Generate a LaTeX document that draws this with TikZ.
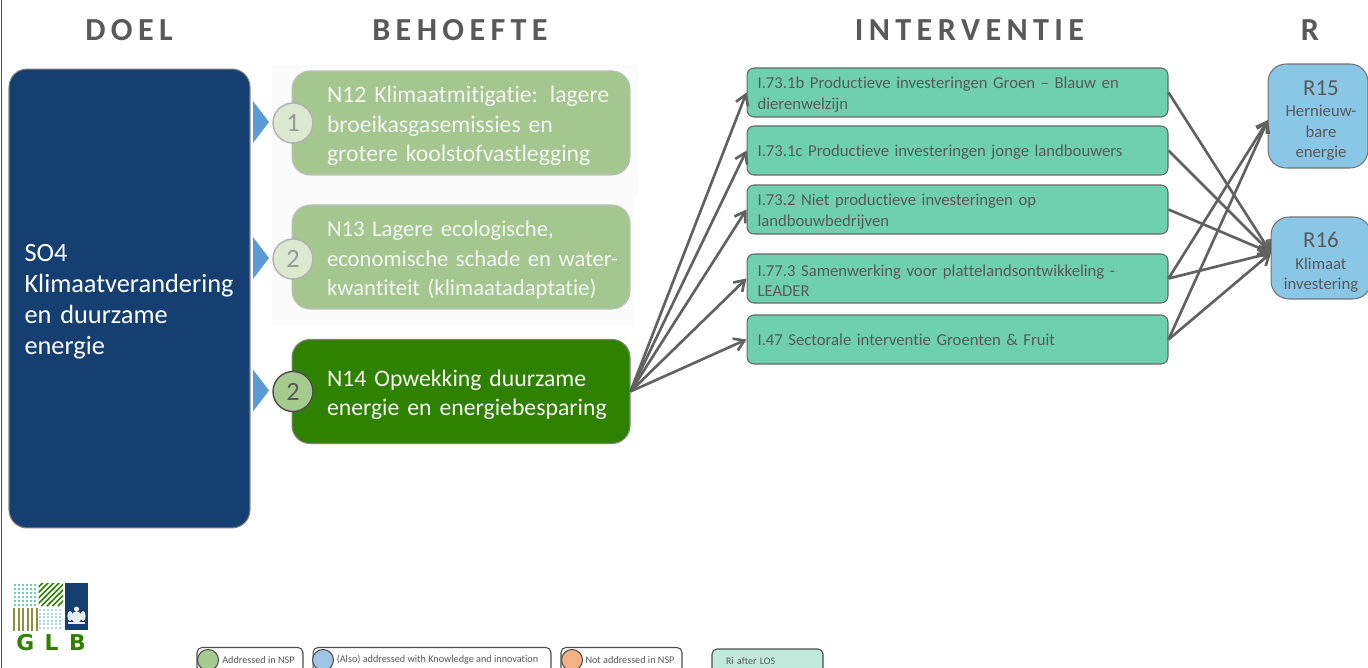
\documentclass[tikz,border=0pt]{standalone}
\usepackage{fontspec}
\setmainfont[Ligatures=CommonOff]{Carlito}
\newfontfamily\glbfont{DejaVu Sans}
\usepackage{tikz}
\usetikzlibrary{arrows.meta}
\definecolor{doelblue}{HTML}{153F70}
\definecolor{palegreen}{HTML}{A3C78E}
\definecolor{darkgreen}{HTML}{2F8200}
\definecolor{circgreen}{HTML}{A6CB8E}
\definecolor{circpale}{HTML}{DAE9CF}
\definecolor{intgreen}{HTML}{6FD0B0}
\definecolor{resblue}{HTML}{8AC6E6}
\definecolor{triblue}{HTML}{5B9BD5}
\definecolor{txtgray}{HTML}{595959}
\definecolor{barolive}{HTML}{8F8F3E}
\definecolor{dotblue}{HTML}{A9D8EE}
\definecolor{legorange}{HTML}{F4B183}
\definecolor{legblue}{HTML}{9DC3E6}
\definecolor{legmint}{HTML}{BFEADC}
\tikzset{
    x=0.02cm, y=-0.02cm,
    needbox/.style={draw=black!25, line width=0.6pt, fill=palegreen, rounded corners=0.36cm, minimum width=6.76cm, minimum height=2.08cm, text=white!96!black, text width=6.76cm, align=left, inner sep=0pt, font=\fontsize{13.5}{16.7}\selectfont, execute at begin node={\leftskip=0.7cm\rightskip=-0.6cm plus 1fil\relax}, execute at end node={\par\vspace{-3.4pt}}},
    intbox/.style={draw=black!60, line width=0.6pt, fill=intgreen, rounded corners=0.14cm, minimum width=8.42cm, minimum height=0.98cm, text=txtgray, text width=8.0cm, align=left, inner sep=0pt, font=\fontsize{9.5}{11.6}\selectfont, execute at end node={\par\vspace{-2.3pt}}},
    resbox/.style={draw=black!55, line width=0.6pt, fill=resblue, rounded corners=0.36cm, text=txtgray, text width=2cm, align=center, inner sep=0pt, font=\fontsize{9.5}{11.6}\selectfont, execute at end node={\par\vspace{-5pt}}},
    numcirc/.style={circle, draw=black!30, line width=0.8pt, fill=circpale, minimum size=0.8cm, inner sep=0pt, text=black!40, font=\fontsize{15}{15}\selectfont},
    numdark/.style={numcirc, draw=black!70, fill=circgreen, text=black!65},
    heading/.style={text=txtgray, font=\fontsize{18.3}{18.3}\selectfont\bfseries},
    legbox/.style={draw=black!70, line width=0.6pt, fill=white, rounded corners=0.1cm, minimum height=0.5cm, inner sep=0pt, text=txtgray, font=\fontsize{5.8}{7}\selectfont},
    legcirc/.style={circle, draw=black!70, line width=0.6pt, minimum size=0.42cm, inner sep=0pt},
    link/.style={-{Straight Barb[length=2mm,width=2.6mm]}, draw=black!62, line width=1.5pt},
}
\begin{document}
\begin{tikzpicture}
    \useasboundingbox (0,0) rectangle (1368,668);
    \begin{scope}
    \clip (0,0) rectangle (1368,668);

    % page edge
    \draw [black!70, line width=1pt] (1.5,0) -- (1.5,668);

    % headings
    \node [heading] (doel) at (129,30) {D\,O\,E\,L};
    \node [heading] (behoefte) at (460,30) {B\,E\,H\,O\,E\,F\,T\,E};
    \node [heading] (interventie) at (969.5,30) {I\,N\,T\,E\,R\,V\,E\,N\,T\,I\,E};
    \node [heading] (rhead) at (1310,30) {R};

    % faint bands
    \fill [black!1.5] (272,65) rectangle (638,195);
    \fill [black!1.5] (272,195) rectangle (634,325);

    % goal
    \node [draw=black!50, line width=0.6pt, fill=doelblue, rounded corners=0.36cm, minimum width=4.82cm, minimum height=9.18cm, text=white, text width=4.2cm, align=left, inner sep=0pt, font=\fontsize{15}{17.6}\selectfont, execute at end node={\par\vspace{-4pt}}] (so4) at (129.5,298.5) {SO4\\Klimaatverandering\\en duurzame\\energie};

    % needs
    \node [needbox] (n12) at (461,123) {N12 Klimaatmitigatie: lagere\\broeikasgasemissies en\\grotere koolstofvastlegging};
    \node [needbox, font=\fontsize{12.9}{16.7}\selectfont] (n13) at (461,257) {N13 Lagere ecologische,\\economische schade en water-\\kwantiteit (klimaatadaptatie)};
    \node [needbox, draw=black!50, fill=darkgreen] (n14) at (461,391.5) {N14 Opwekking duurzame\\energie en energiebesparing};

    % pointers and numbers
    \foreach \y/\name/\num/\look in {122/c12/1/numcirc,258/c13/2/numcirc,390.5/c14/2/numdark}{%
        \fill [triblue] (253,\y-21) -- (269,\y) -- (253,\y+21) -- cycle;
        \node [\look] (\name) at (293,\y+1) {\num};}

    % interventions
    \node [intbox] (i1) at (957.5,92.5) {I.73.1b Productieve investeringen Groen – Blauw en\\dierenwelzijn};
    \node [intbox] (i2) at (957.5,150.5) {I.73.1c Productieve investeringen jonge landbouwers};
    \node [intbox] (i3) at (957.5,209.5) {I.73.2 Niet productieve investeringen op\\landbouwbedrijven};
    \node [intbox] (i4) at (957.5,278.5) {I.77.3 Samenwerking voor plattelandsontwikkeling -\\LEADER};
    \node [intbox] (i5) at (957.5,339.5) {I.47 Sectorale interventie Groenten \& Fruit};

    % results
    \node [resbox, minimum width=2cm, minimum height=2.08cm, execute at begin node={\leftskip=0.12cm plus 2em\relax}] (r15) at (1318,116) {{\fontsize{13}{15}\selectfont R15}\\[0.6pt]Hernieuw-\\bare\\energie};
    \node [resbox, minimum width=2cm, minimum height=1.64cm] (r16) at (1321,258) {{\fontsize{13}{15}\selectfont R16}\\[0.6pt]Klimaat\\investering};
    \coordinate (r15in) at (1268,120);
    \coordinate (r16in) at (1271,253);

    % links
    \foreach \i in {i1,i2,i3,i4,i5}{%
        \draw [link] (n14.east) -- (\i.west);}
    \foreach \i in {i1,i2,i3,i4,i5}{%
        \draw [link] (\i.east) -- (r16in);}
    \foreach \i in {i4,i5}{%
        \draw [link] (\i.east) -- (r15in);}

    % logo
    \fill [doelblue] (64.5,583) rectangle (88,630);
    \foreach \x in {14,18,...,34}{%
        \foreach \y in {584,588,...,604}{%
            \fill [intgreen] (\x,\y) rectangle +(2,2);}}
    \foreach \x in {39,43,...,59}{%
        \foreach \y in {609,612.5,...,628}{%
            \fill [dotblue] (\x,\y) rectangle +(2.4,2);}}
    \foreach \x in {13,17.5,...,36}{%
        \fill [barolive] (\x,608) rectangle +(2.2,22.5);}
    \begin{scope}
        \clip (38.5,583) rectangle (63,606);
        \foreach \x in {0,5.5,...,50}{%
            \draw [darkgreen, line width=1pt] (38+\x-24,606) -- (38+\x,582);}
    \end{scope}
    % crest
    \fill [white!90!doelblue] (76.5,617) ellipse (5 and 6);
    \fill [white!90!doelblue] (70,616) ellipse (2.6 and 5);
    \fill [white!90!doelblue] (83,616) ellipse (2.6 and 5);
    \fill [white!90!doelblue] (76.5,609) ellipse (2.6 and 2.4);
    \fill [white!90!doelblue] (68,622) rectangle (85,623.5);
    \node [text=darkgreen, font=\glbfont\fontsize{12.4}{12.4}\selectfont\bfseries] (glb) at (51,643) {G\hspace{6pt}L\hspace{6pt}B};

    % legend
    \node [legbox, minimum width=2.12cm] (l1) at (250,660) {\hspace{0.34cm}Addressed in NSP};
    \node [legcirc, fill=circgreen] (l1c) at (208,660) {};
    \node [legbox, minimum width=4.76cm] (l2) at (432,660) {\hspace{0.22cm}(Also) addressed with Knowledge and innovation};
    \node [legcirc, fill=legblue] (l2c) at (323,660) {};
    \node [legbox, minimum width=2.42cm] (l3) at (621.5,660) {\hspace{0.34cm}Not addressed in NSP};
    \node [legcirc, fill=legorange] (l3c) at (572,660) {};
    \node [legbox, fill=legmint, minimum width=2.22cm, text width=1.66cm, align=left, font=\fontsize{5.7}{7}\selectfont] (l4) at (767.5,661.5) {Ri after LOS};
    \end{scope}
\end{tikzpicture}
\end{document}
